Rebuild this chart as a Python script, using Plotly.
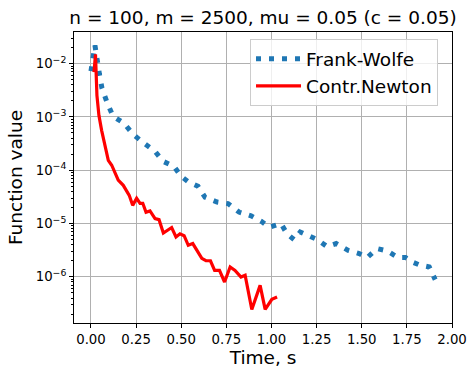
import plotly.graph_objects as go

# Frank-Wolfe: time (s) and function value
fw_time = [0.000, 0.022, 0.047, 0.061, 0.089, 0.122, 0.183, 0.233, 0.294, 0.355,
           0.399, 0.460, 0.499, 0.543, 0.593, 0.632, 0.698, 0.759, 0.820, 0.887,
           0.942, 0.987, 1.020, 1.053, 1.086, 1.125, 1.159, 1.203, 1.253, 1.308,
           1.358, 1.425, 1.486, 1.530, 1.585, 1.641, 1.702, 1.743, 1.779, 1.818,
           1.874, 1.907]
fw_value = [7.2e-3, 2.2e-2, 6.3e-3, 3.44e-3, 1.88e-3, 1.03e-3, 7.6e-4, 4.72e-4, 3.2e-4, 2.26e-4,
            1.47e-4, 1.18e-4, 7.7e-5, 5.93e-5, 4.99e-5, 3.1e-5, 2.53e-5, 2.36e-5, 1.64e-5, 1.39e-5,
            1.11e-5, 8.5e-6, 9.2e-6, 9.95e-6, 6.4e-6, 4.99e-6, 6.93e-6, 6.0e-6, 5.0e-6, 3.69e-6,
            4.2e-6, 3.14e-6, 2.72e-6, 2.29e-6, 3.38e-6, 3.05e-6, 2.29e-6, 2.29e-6, 1.9e-6, 1.68e-6,
            1.53e-6, 8.85e-7]

# Contracting Newton: time (s) and function value
cn_time = [0.017, 0.025, 0.033, 0.044, 0.059, 0.078, 0.096, 0.115, 0.133, 0.151,
           0.179, 0.198, 0.212, 0.231, 0.253, 0.272, 0.287, 0.305, 0.327, 0.355,
           0.377, 0.401, 0.447, 0.471, 0.493, 0.516, 0.539, 0.564, 0.586, 0.614,
           0.637, 0.662, 0.685, 0.712, 0.740, 0.771, 0.798, 0.831, 0.854, 0.891,
           0.937, 0.965, 1.002, 1.031]
cn_value = [6.9e-3, 1.49e-2, 2.54e-3, 1.07e-3, 5.6e-4, 2.69e-4, 1.53e-4, 1.24e-4, 9.1e-5, 6.5e-5,
            5.2e-5, 4.2e-5, 3.38e-5, 2.19e-5, 2.97e-5, 2.39e-5, 2.39e-5, 1.62e-5, 1.72e-5, 1.24e-5,
            1.18e-5, 6.6e-6, 8.4e-6, 5.6e-6, 6.4e-6, 5.9e-6, 3.9e-6, 4.2e-6, 3.14e-6, 2.22e-6,
            2.0e-6, 2.0e-6, 1.32e-6, 1.32e-6, 7.98e-7, 1.53e-6, 1.32e-6, 9.9e-7, 1.07e-6, 2.43e-7,
            6.9e-7, 2.45e-7, 3.79e-7, 4.18e-7]

x_tick_vals = [0.0, 0.25, 0.5, 0.75, 1.0, 1.25, 1.5, 1.75, 2.0]
x_tick_labels = ["0.00", "0.25", "0.50", "0.75", "1.00", "1.25", "1.50", "1.75", "2.00"]
y_tick_vals = [1e-2, 1e-3, 1e-4, 1e-5, 1e-6]
y_tick_labels = ["10<sup>\u22122</sup>", "10<sup>\u22123</sup>", "10<sup>\u22124</sup>",
                 "10<sup>\u22125</sup>", "10<sup>\u22126</sup>"]
y_minor_vals = [k * 10.0 ** e for e in range(-7, -1) for k in range(2, 10)]

font_family = "DejaVu Sans"

fig = go.Figure()
fig.add_trace(go.Scatter(
    x=fw_time, y=fw_value, mode="lines", name="Frank-Wolfe",
    line=dict(color="#1f77b4", width=5, dash="5px,8px"),
))
fig.add_trace(go.Scatter(
    x=cn_time, y=cn_value, mode="lines", name="Contr.Newton",
    line=dict(color="#ff0000", width=3.2),
))

fig.update_layout(
    width=468, height=368,
    margin=dict(l=74, r=16, t=32, b=45, autoexpand=False),
    paper_bgcolor="white", plot_bgcolor="white",
    font=dict(family=font_family, color="black"),
    title=dict(
        text="n = 100, m = 2500, mu = 0.05 (c = 0.05)",
        font=dict(size=18.5, family=font_family, color="black"),
        x=0.5, xref="paper", xanchor="center",
        y=1 - 17.5 / 368, yref="container", yanchor="middle",
    ),
    showlegend=True,
    legend=dict(
        x=0.963, y=0.975, xanchor="right", yanchor="top",
        bgcolor="rgba(255,255,255,0.8)", bordercolor="#cccccc", borderwidth=1,
        font=dict(size=18.5, family=font_family, color="black"),
        itemwidth=45,
    ),
)

fig.update_xaxes(
    range=[-0.094, 2.0], automargin=False,
    tickmode="array", tickvals=x_tick_vals, ticktext=x_tick_labels,
    ticks="outside", ticklen=4, tickwidth=1, tickcolor="black",
    tickfont=dict(size=13.3, family=font_family, color="black"),
    showgrid=True, gridcolor="#b0b0b0", gridwidth=1,
    showline=True, linecolor="black", linewidth=1, mirror=True,
    zeroline=False,
    title=dict(text="Time, s", font=dict(size=18.5, family=font_family, color="black"), standoff=2),
)
fig.update_yaxes(
    type="log", range=[-6.867, -1.407], automargin=False,
    tickmode="array", tickvals=y_tick_vals, ticktext=y_tick_labels,
    ticks="outside", ticklen=4, tickwidth=1, tickcolor="black",
    tickfont=dict(size=13.3, family=font_family, color="black"),
    minor=dict(tickmode="array", tickvals=y_minor_vals, ticks="outside", ticklen=2,
               tickwidth=0.8, tickcolor="black", showgrid=False),
    showgrid=True, gridcolor="#b0b0b0", gridwidth=1,
    showline=True, linecolor="black", linewidth=1, mirror=True,
    zeroline=False,
    title=dict(text="Function value", font=dict(size=18.5, family=font_family, color="black"), standoff=8),
)

fig.write_html("out.html", config={"displayModeBar": False},
               post_script="document.body.style.margin='0';")
